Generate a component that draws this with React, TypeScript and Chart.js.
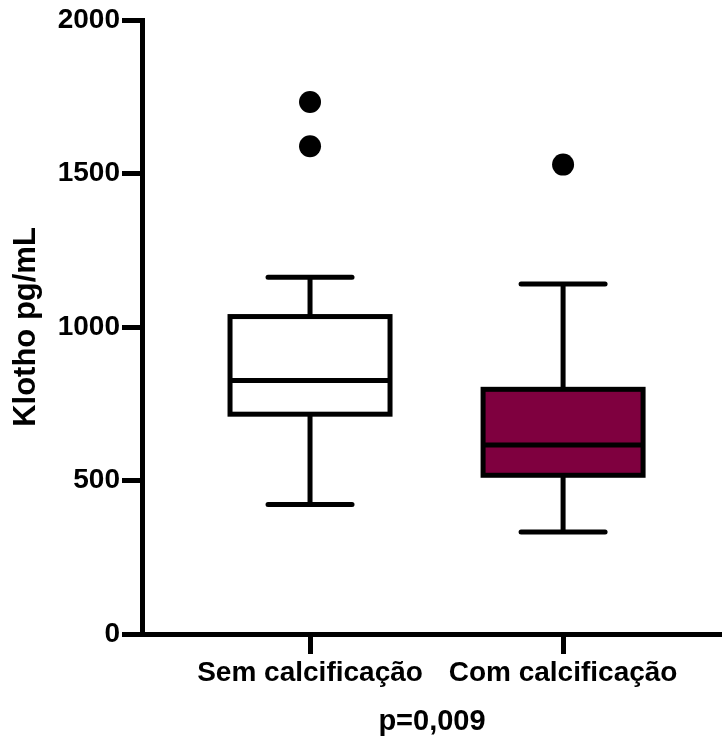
import React, { useEffect, useRef } from "react";
import { Chart, registerables } from "chart.js";

Chart.register(...registerables);

// ---- data ----
const groups = ["Sem calcificação", "Com calcificação"];
const whiskerMin = [422, 332];
const q1 = [716, 517];
const median = [826, 616];
const q3 = [1034, 797];
const whiskerMax = [1162, 1140];
const outlierGroup = [1, 1, 2];
const outlierValues = [1733, 1589, 1529];
const yTicks = [0, 500, 1000, 1500, 2000];
const yTitle = "Klotho pg/mL";
const xTitle = "p=0,009";

const boxFill = ["#ffffff", "rgb(127,0,63)"];
const FONT = "'Liberation Sans', Arial, Helvetica, sans-serif";

const boxPlugin = {
  id: "boxPlugin",
  beforeDatasetsDraw(chart: any) {
    const { ctx, scales } = chart;
    const xs = scales.x;
    const ys = scales.y;
    const halfBox = 80;
    const halfCap = 42;
    ctx.save();
    ctx.strokeStyle = "#000";
    ctx.lineWidth = 5;
    groups.forEach((_, i) => {
      const xc = xs.getPixelForValue(i + 1);
      const yMin = ys.getPixelForValue(whiskerMin[i]);
      const yQ1 = ys.getPixelForValue(q1[i]);
      const yMed = ys.getPixelForValue(median[i]);
      const yQ3 = ys.getPixelForValue(q3[i]);
      const yMax = ys.getPixelForValue(whiskerMax[i]);
      // whiskers
      ctx.lineCap = "butt";
      ctx.beginPath();
      ctx.moveTo(xc, yQ3);
      ctx.lineTo(xc, yMax);
      ctx.moveTo(xc, yQ1);
      ctx.lineTo(xc, yMin);
      ctx.stroke();
      // caps
      ctx.lineCap = "round";
      ctx.beginPath();
      ctx.moveTo(xc - halfCap, yMax);
      ctx.lineTo(xc + halfCap, yMax);
      ctx.moveTo(xc - halfCap, yMin);
      ctx.lineTo(xc + halfCap, yMin);
      ctx.stroke();
      // box
      ctx.lineCap = "butt";
      ctx.lineJoin = "miter";
      ctx.fillStyle = boxFill[i];
      ctx.fillRect(xc - halfBox, yQ3, halfBox * 2, yQ1 - yQ3);
      ctx.strokeRect(xc - halfBox, yQ3, halfBox * 2, yQ1 - yQ3);
      // median
      ctx.beginPath();
      ctx.moveTo(xc - halfBox, yMed);
      ctx.lineTo(xc + halfBox, yMed);
      ctx.stroke();
    });
    ctx.restore();
  },
};

export default function App() {
  const ref = useRef<HTMLCanvasElement | null>(null);
  useEffect(() => {
    if (!ref.current) return;
    const chart = new Chart(ref.current, {
      type: "scatter",
      data: {
        datasets: [
          {
            data: outlierValues.map((v, i) => ({ x: outlierGroup[i], y: v })),
            pointRadius: 11,
            pointHoverRadius: 11,
            backgroundColor: "#000",
            borderWidth: 0,
          },
        ],
      },
      options: {
        responsive: false,
        animation: false,
        devicePixelRatio: 1,
        layout: { autoPadding: false, padding: { top: 20, right: 0, bottom: 0, left: 0 } },
        plugins: { legend: { display: false }, tooltip: { enabled: false } },
        scales: {
          x: {
            type: "linear",
            min: 0.336,
            max: 2.628,
            afterBuildTicks: (s: any) => {
              s.ticks = groups.map((_, i) => ({ value: i + 1 }));
            },
            afterFit: (s: any) => {
              s.height = 105;
            },
            grid: {
              drawOnChartArea: false,
              drawTicks: true,
              tickLength: 20,
              lineWidth: 5,
              color: "#000",
            },
            border: { display: true, width: 5, color: "#000" },
            ticks: {
              color: "#000",
              padding: 2,
              maxRotation: 0,
              autoSkip: false,
              font: { family: FONT, size: 28, weight: "bold" },
              callback: (v: any) => groups[Math.round(v) - 1] ?? "",
            },
            title: {
              display: true,
              text: xTitle,
              color: "#000",
              padding: { top: 0, bottom: 0 },
              font: { family: FONT, size: 29, weight: "bold" },
            },
          },
          y: {
            type: "linear",
            min: 0,
            max: 2000,
            afterBuildTicks: (s: any) => {
              s.ticks = yTicks.map((v) => ({ value: v }));
            },
            afterFit: (s: any) => {
              s.width = 142;
            },
            grid: {
              drawOnChartArea: false,
              drawTicks: true,
              tickLength: 20,
              lineWidth: 5,
              color: "#000",
            },
            border: { display: true, width: 5, color: "#000" },
            ticks: {
              color: "#000",
              padding: 2,
              font: { family: FONT, size: 28, weight: "bold" },
              callback: (v: any) => String(v),
            },
            title: {
              display: true,
              text: yTitle,
              color: "#000",
              padding: { top: 8, bottom: 0 },
              font: { family: FONT, size: 31, weight: "bold" },
            },
          },
        },
      },
      plugins: [boxPlugin],
    } as any);
    return () => chart.destroy();
  }, []);
  return (
    <div style={{ position: "fixed", left: 0, top: 0, width: 722, height: 739, background: "#fff" }}>
      <canvas ref={ref} width={722} height={739} style={{ display: "block", width: 722, height: 739 }} />
    </div>
  );
}
